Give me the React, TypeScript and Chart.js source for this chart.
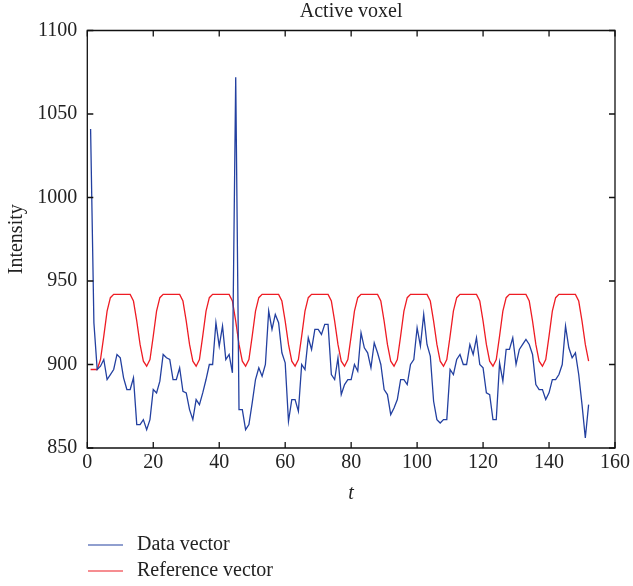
import React, { useEffect, useRef } from "react";
import { Chart, registerables } from "chart.js";

Chart.register(...registerables);

const chartTitle = "Active voxel";
const xAxisTitle = "t";
const yAxisTitle = "Intensity";
const seriesLabels = ["Data vector", "Reference vector"];
const seriesColors = ["#2340a0", "#ee1c24"];

const xMin = 0;
const xMax = 160;
const xStep = 20;
const yMin = 850;
const yMax = 1100;
const yStep = 50;

// Blue: measured voxel intensity, t = 1..152
const dataVector = [
  1041, 925, 897, 899, 903, 891, 894, 897, 906, 904,
  892, 885, 885, 892, 864, 864, 867, 861, 867, 885,
  883, 890, 906, 904, 903, 891, 891, 898, 884, 883,
  873, 867, 879, 876, 883, 891, 900, 900, 925, 911,
  923, 903, 906, 895, 1072, 873, 873, 861, 864, 877,
  891, 898, 893, 900, 932, 921, 930, 925, 907, 901,
  866, 879, 879, 872, 900, 897, 916, 909, 921, 921,
  918, 924, 924, 894, 891, 904, 882, 888, 891, 891,
  900, 896, 919, 910, 907, 898, 913, 907, 900, 885,
  882, 870, 874, 879, 891, 891, 888, 900, 903, 922,
  911, 930, 912, 905, 878, 867, 865, 867, 867, 897,
  894, 903, 906, 900, 900, 912, 906, 916, 900, 898,
  883, 882, 867, 867, 901, 890, 909, 909, 916, 900,
  909, 912, 915, 912, 906, 888, 885, 885, 879, 883,
  891, 891, 894, 900, 923, 910, 904, 907, 894, 876,
  856, 876,
];

// Red: reference (expected) response, t = 1..152
const referenceVector = [
  897, 897, 897, 903, 917, 932, 940, 942, 942, 942,
  942, 942, 942, 938, 926, 912, 902, 899, 903, 917,
  932, 940, 942, 942, 942, 942, 942, 942, 938, 926,
  912, 902, 899, 903, 917, 932, 940, 942, 942, 942,
  942, 942, 942, 938, 926, 912, 902, 899, 903, 917,
  932, 940, 942, 942, 942, 942, 942, 942, 938, 926,
  912, 902, 899, 903, 917, 932, 940, 942, 942, 942,
  942, 942, 942, 938, 926, 912, 902, 899, 903, 917,
  932, 940, 942, 942, 942, 942, 942, 942, 938, 926,
  912, 902, 899, 903, 917, 932, 940, 942, 942, 942,
  942, 942, 942, 938, 926, 912, 902, 899, 903, 917,
  932, 940, 942, 942, 942, 942, 942, 942, 938, 926,
  912, 902, 899, 903, 917, 932, 940, 942, 942, 942,
  942, 942, 942, 938, 926, 912, 902, 899, 903, 917,
  932, 940, 942, 942, 942, 942, 942, 942, 938, 926,
  912, 902,
];

const FONT = "'Liberation Serif', 'Times New Roman', serif";

const frameAndLegend = {
  id: "frameAndLegend",
  afterDatasetsDraw(chart: any) {
    const { ctx, chartArea } = chart;
    const { left, right, top, bottom } = chartArea;
    const xs = chart.scales.x;
    const ys = chart.scales.y;
    const tl = 6;
    ctx.save();
    ctx.strokeStyle = "#111";
    ctx.lineWidth = 1.3;
    ctx.beginPath();
    ctx.rect(left, top, right - left, bottom - top);
    ctx.stroke();
    ctx.beginPath();
    xs.ticks.forEach((t: any) => {
      const px = xs.getPixelForValue(t.value);
      ctx.moveTo(px, bottom);
      ctx.lineTo(px, bottom - tl);
      ctx.moveTo(px, top);
      ctx.lineTo(px, top + tl);
    });
    ys.ticks.forEach((t: any) => {
      const py = ys.getPixelForValue(t.value);
      ctx.moveTo(left, py);
      ctx.lineTo(left + tl, py);
      ctx.moveTo(right, py);
      ctx.lineTo(right - tl, py);
    });
    ctx.stroke();

    // legend
    const lx0 = 88;
    const lx1 = 123;
    const textX = 137;
    const rows = [545, 571];
    chart.data.datasets.forEach((ds: any, i: number) => {
      const y = rows[i];
      ctx.strokeStyle = ds.borderColor;
      ctx.lineWidth = 1.2;
      ctx.beginPath();
      ctx.moveTo(lx0, y);
      ctx.lineTo(lx1, y);
      ctx.stroke();
      ctx.fillStyle = "#222";
      ctx.font = `20px ${FONT}`;
      ctx.textAlign = "left";
      ctx.textBaseline = "middle";
      ctx.fillText(ds.label, textX, y);
    });
    ctx.restore();
  },
};

export default function App() {
  const canvasRef = useRef<HTMLCanvasElement | null>(null);

  useEffect(() => {
    const canvas = canvasRef.current;
    if (!canvas) return;
    const timeSteps = dataVector.map((_, i) => i + 1);
    const chart = new Chart(canvas, {
      type: "line",
      data: {
        datasets: [
          {
            label: seriesLabels[0],
            data: timeSteps.map((t, i) => ({ x: t, y: dataVector[i] })),
            borderColor: seriesColors[0],
            borderWidth: 1.3,
            pointRadius: 0,
            tension: 0,
          },
          {
            label: seriesLabels[1],
            data: timeSteps.map((t, i) => ({ x: t, y: referenceVector[i] })),
            borderColor: seriesColors[1],
            borderWidth: 1.3,
            pointRadius: 0,
            tension: 0,
          },
        ],
      },
      options: {
        animation: false,
        responsive: false,
        maintainAspectRatio: false,
        layout: { padding: { left: 0, right: 17, top: 0, bottom: 76 } },
        plugins: {
          legend: { display: false },
          tooltip: { enabled: false },
          title: {
            display: true,
            text: chartTitle,
            fullSize: false,
            color: "#222",
            font: { family: FONT, size: 20, weight: "normal", lineHeight: 1 },
            padding: { top: 2, bottom: 8.5 },
          },
        },
        scales: {
          x: {
            type: "linear",
            min: xMin,
            max: xMax,
            afterFit: (s: any) => {
              s.height = 62;
            },
            ticks: {
              stepSize: xStep,
              color: "#222",
              padding: 3,
              font: { family: FONT, size: 20 },
              maxRotation: 0,
              callback: (v: any) => String(v),
            },
            grid: { display: false, drawTicks: false },
            border: { display: false },
            title: {
              display: true,
              text: xAxisTitle,
              color: "#222",
              font: { family: FONT, size: 20, style: "italic" },
              padding: { top: 0, bottom: 4 },
            },
          },
          y: {
            type: "linear",
            min: yMin,
            max: yMax,
            afterFit: (s: any) => {
              s.width = 87.3;
            },
            ticks: {
              stepSize: yStep,
              color: "#222",
              padding: 10,
              font: { family: FONT, size: 20 },
              callback: (v: any) => String(v),
            },
            grid: { display: false, drawTicks: false },
            border: { display: false },
            title: {
              display: true,
              text: yAxisTitle,
              color: "#222",
              font: { family: FONT, size: 20 },
              padding: { top: 5, bottom: 0 },
            },
          },
        },
      },
      plugins: [frameAndLegend],
    });
    return () => chart.destroy();
  }, []);

  return (
    <div style={{ position: "absolute", left: 0, top: 0, width: 633, height: 586, background: "#fff" }}>
      <canvas ref={canvasRef} width={633} height={586} style={{ width: 633, height: 586, display: "block" }} />
    </div>
  );
}
